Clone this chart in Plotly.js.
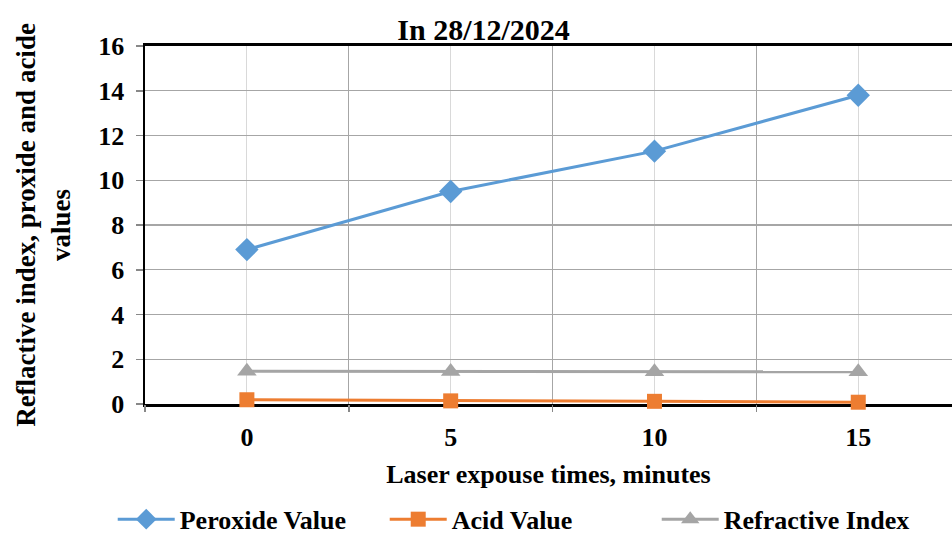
<!DOCTYPE html>
<html><head><meta charset="utf-8">
<script src="https://cdn.plot.ly/plotly-3.0.1.min.js"></script>
<style>html,body{margin:0;padding:0;background:#fff;}#chart{width:952px;height:536px;}</style>
</head><body><div id="chart"></div>
<script>
var times = [0, 5, 10, 15];
var tickLabels = ['0', '5', '10', '15'];
var peroxideValue = [6.9, 9.5, 11.3, 13.8];
var acidValue = [0.19, 0.14, 0.12, 0.08];
var refractiveIndex = [1.46, 1.45, 1.44, 1.44];
var boundaryTicks = [-2.5, 2.5, 7.5, 12.5, 17.5];

var F = 'Liberation Serif, Times New Roman, serif';
var traces = [
  {x: times, y: peroxideValue, name: 'Peroxide Value', mode: 'lines+markers',
   line: {color: '#5b9bd5', width: 3}, marker: {symbol: 'diamond', size: 18, color: '#5b9bd5'}, cliponaxis: false},
  {x: times, y: acidValue, name: 'Acid Value', mode: 'lines+markers',
   line: {color: '#ed7d31', width: 3}, marker: {symbol: 'square', size: 15, color: '#ed7d31'}, cliponaxis: false},
  {x: times, y: refractiveIndex, name: 'Refractive Index', mode: 'lines+markers',
   line: {color: '#a5a5a5', width: 3}, marker: {symbol: 'triangle-up', size: 17, color: '#a5a5a5'}, cliponaxis: false},
  {x: [], y: [], xaxis: 'x2', showlegend: false, hoverinfo: 'skip'}
];
var layout = {
  width: 952, height: 536,
  margin: {l: 145, r: 0, t: 46, b: 132, autoexpand: false},
  paper_bgcolor: '#fff', plot_bgcolor: '#fff',
  font: {family: F, size: 26, color: '#000'},
  title: {text: '<b>In 28/12/2024</b>', font: {family: F, size: 30, color: '#000'}, x: 0.508, xanchor: 'center', y: 0.945, yanchor: 'middle'},
  xaxis: {
    range: [-2.5, 17.3], tickvals: times, ticktext: tickLabels, ticks: '',
    showgrid: true, gridcolor: '#d9d9d9', gridwidth: 1, zeroline: false,
    showline: true, mirror: true, linecolor: '#000', linewidth: 3, layer: 'below traces',
    tickfont: {family: F, size: 26, color: '#000'}, ticklabelstandoff: 8,
    title: {text: '<b>Laser expouse times, minutes</b>', font: {family: F, size: 26, color: '#000'}, standoff: 14}
  },
  xaxis2: {
    overlaying: 'x', range: [-2.5, 17.3], tickvals: boundaryTicks, showticklabels: false,
    ticks: 'outside', ticklen: 7, tickcolor: '#888', tickwidth: 1.5,
    showgrid: true, gridcolor: '#a6a6a6', gridwidth: 1.3, zeroline: false, showline: false, side: 'bottom', layer: 'below traces'
  },
  yaxis: {
    range: [0, 16], dtick: 2, tick0: 0, ticks: 'outside', ticklen: 7, tickcolor: '#888', tickwidth: 1.5,
    showgrid: true, gridcolor: '#a6a6a6', gridwidth: 1.3, zeroline: false,
    showline: true, linecolor: '#000', linewidth: 2.5, layer: 'below traces',
    tickfont: {family: F, size: 26, color: '#000'}, tickprefix: '<b>', ticksuffix: '</b>', ticklabelstandoff: 6,
    title: {text: '<b>Reflactive index, proxide and acide<br>values</b>', font: {family: F, size: 27, color: '#000'}, standoff: 20}
  },
  legend: {orientation: 'h', x: -0.04, xanchor: 'left', y: -0.322, yanchor: 'middle',
    itemwidth: 57, entrywidth: 200, font: {family: F, size: 26, color: '#000'}, tracegroupgap: 0},
  showlegend: true
};
layout.xaxis.ticktext = tickLabels.map(function(t){return '<b>' + t + '</b>';});
traces.forEach(function(t){ if (t.name) t.name = '<b>' + t.name + '</b>'; });
Plotly.newPlot('chart', traces, layout, {displayModeBar: false, staticPlot: true});
</script></body></html>
